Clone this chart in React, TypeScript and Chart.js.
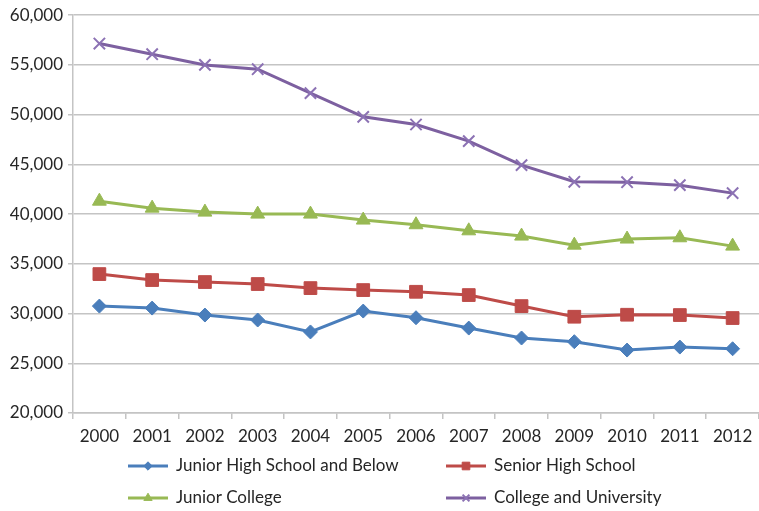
import React, { useEffect, useRef } from "react";
import { Chart, registerables } from "chart.js";
import { drawPoint } from "chart.js/helpers";

Chart.register(...registerables);

const years = ["2000", "2001", "2002", "2003", "2004", "2005", "2006", "2007", "2008", "2009", "2010", "2011", "2012"];

const juniorHighAndBelow = [30750, 30550, 29850, 29350, 28150, 30250, 29580, 28540, 27540, 27170, 26330, 26630, 26460];
const seniorHigh = [33970, 33370, 33170, 32970, 32560, 32360, 32190, 31860, 30750, 29680, 29880, 29850, 29550];
const juniorCollege = [41300, 40600, 40200, 40000, 40000, 39400, 38930, 38320, 37790, 36880, 37490, 37620, 36780];
const collegeUniversity = [57150, 56080, 55000, 54570, 52160, 49780, 49010, 47340, 44920, 43250, 43210, 42910, 42110];

const seriesNames = ["Junior High School and Below", "Senior High School", "Junior College", "College and University"];

const yMin = 20000;
const yMax = 60000;
const yStep = 5000;

const FONT = "Lato, 'Open Sans', sans-serif";
const TEXT = "#262626";
const GRID = "#c4c4c4";

// Two-column legend drawn under the x axis
const gridLegend = {
  id: "gridLegend",
  afterDraw(chart: any) {
    const { ctx } = chart;
    const cols = [128, 446];
    const rows = [466, 498];
    const lineLen = 40;
    ctx.save();
    chart.data.datasets.forEach((ds: any, i: number) => {
      const x = cols[i % 2];
      const y = rows[Math.floor(i / 2)];
      ctx.strokeStyle = ds.borderColor;
      ctx.lineWidth = 3;
      ctx.beginPath();
      ctx.moveTo(x, y);
      ctx.lineTo(x + lineLen, y);
      ctx.stroke();
      ctx.fillStyle = ds.pointBackgroundColor;
      ctx.strokeStyle = ds.pointBorderColor;
      ctx.lineWidth = ds.pointBorderWidth;
      drawPoint(ctx, { pointStyle: ds.pointStyle, radius: ds.pointRadius * 0.6, rotation: 0, borderWidth: ds.pointBorderWidth }, x + lineLen / 2, y);
      ctx.fillStyle = TEXT;
      ctx.font = `17px ${FONT}`;
      ctx.textBaseline = "middle";
      ctx.textAlign = "left";
      ctx.fillText(ds.label, x + lineLen + 8, y);
    });
    ctx.restore();
  },
};

export default function App() {
  const canvasRef = useRef<HTMLCanvasElement>(null);

  useEffect(() => {
    const canvas = canvasRef.current;
    if (!canvas) return;

    const mk = (label: string, data: number[], color: string, pointColor: string, style: string, radius: number, pbw: number) => ({
      label,
      data,
      borderColor: color,
      backgroundColor: color,
      borderWidth: 3,
      pointStyle: style,
      pointRadius: radius,
      pointBackgroundColor: pointColor,
      pointBorderColor: pointColor,
      pointBorderWidth: pbw,
      tension: 0,
    });

    const chart = new Chart(canvas, {
      type: "line",
      data: {
        labels: years,
        datasets: [
          mk(seriesNames[0], juniorHighAndBelow, "#4a7ebb", "#4a7ebb", "rectRot", 7, 1),
          mk(seriesNames[1], seniorHigh, "#be4b48", "#be4b48", "rect", 9, 1),
          mk(seriesNames[2], juniorCollege, "#98b954", "#98b954", "triangle", 8, 1),
          mk(seriesNames[3], collegeUniversity, "#7d60a0", "#8c72b4", "crossRot", 8, 2),
        ] as any,
      },
      options: {
        animation: false,
        responsive: true,
        maintainAspectRatio: false,
        layout: { autoPadding: false, padding: { top: 15, right: 0, left: 0, bottom: 0 } },
        plugins: {
          legend: { display: false },
          tooltip: { enabled: false },
        },
        scales: {
          x: {
            type: "category",
            offset: true,
            grid: {
              offset: true,
              drawOnChartArea: false,
              drawTicks: true,
              tickLength: 6,
              color: GRID,
              lineWidth: 1.5,
            },
            border: { color: GRID, width: 1.5 },
            ticks: {
              color: TEXT,
              font: { family: FONT, size: 17 },
              padding: 7,
              maxRotation: 0,
              autoSkip: false,
            },
            afterFit: (scale: any) => {
              scale.height = 98;
              scale.paddingLeft = 0;
              scale.paddingRight = 0;
            },
          },
          y: {
            min: yMin,
            max: yMax,
            grid: {
              color: GRID,
              lineWidth: 1.5,
              tickLength: 5,
            },
            border: { color: GRID, width: 1.5 },
            ticks: {
              stepSize: yStep,
              color: TEXT,
              font: { family: FONT, size: 17 },
              padding: 5,
              callback: (v: any) => Number(v).toLocaleString("en-US"),
            },
            afterFit: (scale: any) => {
              scale.width = 73;
            },
          },
        },
      } as any,
      plugins: [gridLegend],
    });

    return () => chart.destroy();
  }, []);

  return (
    <div style={{ position: "fixed", left: 0, top: 0, width: 759, height: 511, background: "#fff" }}>
      <canvas ref={canvasRef} />
    </div>
  );
}
